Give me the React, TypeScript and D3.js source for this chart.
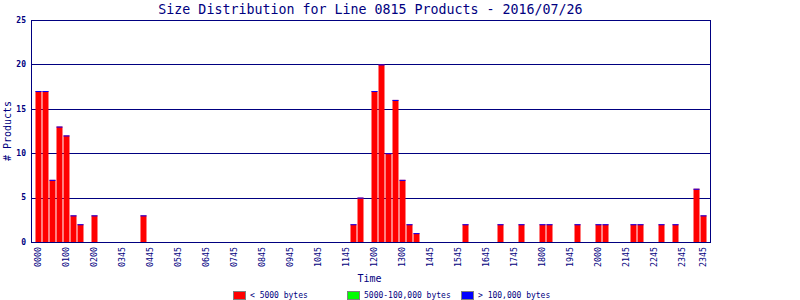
import React from "react";
import * as d3 from "d3";

const TITLE = "Size Distribution for Line 0815 Products - 2016/07/26";

// counts per time bin (96 bins)
const smallCounts = [
  17, 17, 7, 13, 12, 3, 2, 0, 3, 0,
  0, 0, 0, 0, 0, 3, 0, 0, 0, 0,
  0, 0, 0, 0, 0, 0, 0, 0, 0, 0,
  0, 0, 0, 0, 0, 0, 0, 0, 0, 0,
  0, 0, 0, 0, 0, 2, 5, 0, 17, 20,
  10, 16, 7, 2, 1, 0, 0, 0, 0, 0,
  0, 2, 0, 0, 0, 0, 2, 0, 0, 2,
  0, 0, 2, 2, 0, 0, 0, 2, 0, 0,
  2, 2, 0, 0, 0, 2, 2, 0, 0, 2,
  0, 2, 0, 0, 6, 3,
];
const midCounts = smallCounts.map(() => 0);
const largeCounts = smallCounts.map(() => 0);

const tickIndex = [0, 4, 8, 12, 16, 20, 24, 28, 32, 36, 40, 44, 48, 52, 56, 60, 64, 68, 72, 76, 80, 84, 88, 92, 95];
const tickLabels = [
  "0000", "0100", "0200", "0345", "0445", "0545", "0645", "0745", "0845", "0945",
  "1045", "1145", "1200", "1300", "1445", "1545", "1645", "1745", "1800", "1945",
  "2000", "2145", "2245", "2345", "2345",
];
const yTicks = [0, 5, 10, 15, 20, 25];

const legendLabels = ["< 5000 bytes", "5000-100,000 bytes", "> 100,000 bytes"];
const legendColors = ["#ff0000", "#00ff00", "#0000ff"];

const NAVY = "#000080";
const MONO = "'DejaVu Sans Mono', monospace";

export default function App() {
  const W = 800, H = 300;
  const left = 31, right = 710, top = 20, bottom = 242;
  const bins = d3.range(smallCounts.length);
  const x = d3.scaleBand<number>().domain(bins).range([35, 707]).paddingInner(1 / 7).paddingOuter(0.07);
  const y = d3.scaleLinear().domain([0, 25]).range([bottom, top]);

  const stackData = bins.map((i) => ({ i, s: smallCounts[i], m: midCounts[i], l: largeCounts[i] }));
  const stack = d3.stack<any>().keys(["s", "m", "l"])(stackData);

  const legendX = [233, 347, 461];

  return (
    <svg width={W} height={H} style={{ position: "absolute", left: 0, top: 0, background: "#fff" }}>
      <rect x={0} y={0} width={W} height={H} fill="#fff" />
      <text x={(left + right) / 2} y={14} textAnchor="middle" fontFamily={MONO} fontSize={13.3} fill={NAVY}>
        {TITLE}
      </text>
      {/* grid lines */}
      {yTicks.slice(1, -1).map((t) => (
        <line key={t} x1={left} x2={right} y1={Math.round(y(t)) + 0.5} y2={Math.round(y(t)) + 0.5} stroke={NAVY} strokeWidth={1} />
      ))}
      {/* bars */}
      {stack.map((layer, li) =>
        layer.map((d, k) => {
          const h = y(d[0]) - y(d[1]);
          if (h <= 0) return null;
          return (
            <rect key={`${li}-${k}`} x={x(k)!} y={y(d[1])} width={x.bandwidth()} height={h} fill={legendColors[li]} />
          );
        })
      )}
      {/* top caps from the last series */}
      {stackData.map((d) => {
        const tot = d.s + d.m + d.l;
        if (tot <= 0) return null;
        return <rect key={`cap${d.i}`} x={x(d.i)!} y={y(tot)} width={x.bandwidth()} height={1} fill={legendColors[2]} />;
      })}
      {/* frame */}
      <rect x={left + 0.5} y={top + 0.5} width={right - left} height={bottom - top} fill="none" stroke={NAVY} strokeWidth={1} />
      {/* y ticks */}
      {yTicks.map((t) => (
        <text key={t} x={26} y={y(t)} dy="0.35em" textAnchor="end" fontFamily={MONO} fontSize={8} fontWeight="bold" fill={NAVY}>
          {t}
        </text>
      ))}
      {/* x ticks */}
      {tickIndex.map((idx, j) => {
        const cx = x(idx)! + x.bandwidth() / 2;
        return (
          <text key={j} transform={`translate(${cx},247) rotate(-90)`} dy="0.35em" textAnchor="end" fontFamily={MONO} fontSize={8.3} fill={NAVY}>
            {tickLabels[j]}
          </text>
        );
      })}
      <text transform={`translate(11,${(top + bottom) / 2}) rotate(-90)`} textAnchor="middle" fontFamily={MONO} fontSize={10} fill={NAVY}>
        # Products
      </text>
      <text x={369.5} y={282} textAnchor="middle" fontFamily={MONO} fontSize={10} fill={NAVY}>
        Time
      </text>
      {/* legend */}
      {legendLabels.map((lab, i) => (
        <g key={lab}>
          <rect x={legendX[i] + 0.5} y={291.5} width={12} height={8} fill={legendColors[i]} stroke="#808080" strokeWidth={1} />
          <text x={legendX[i] + 17} y={298} fontFamily={MONO} fontSize={8} fill={NAVY}>
            {lab}
          </text>
        </g>
      ))}
    </svg>
  );
}
